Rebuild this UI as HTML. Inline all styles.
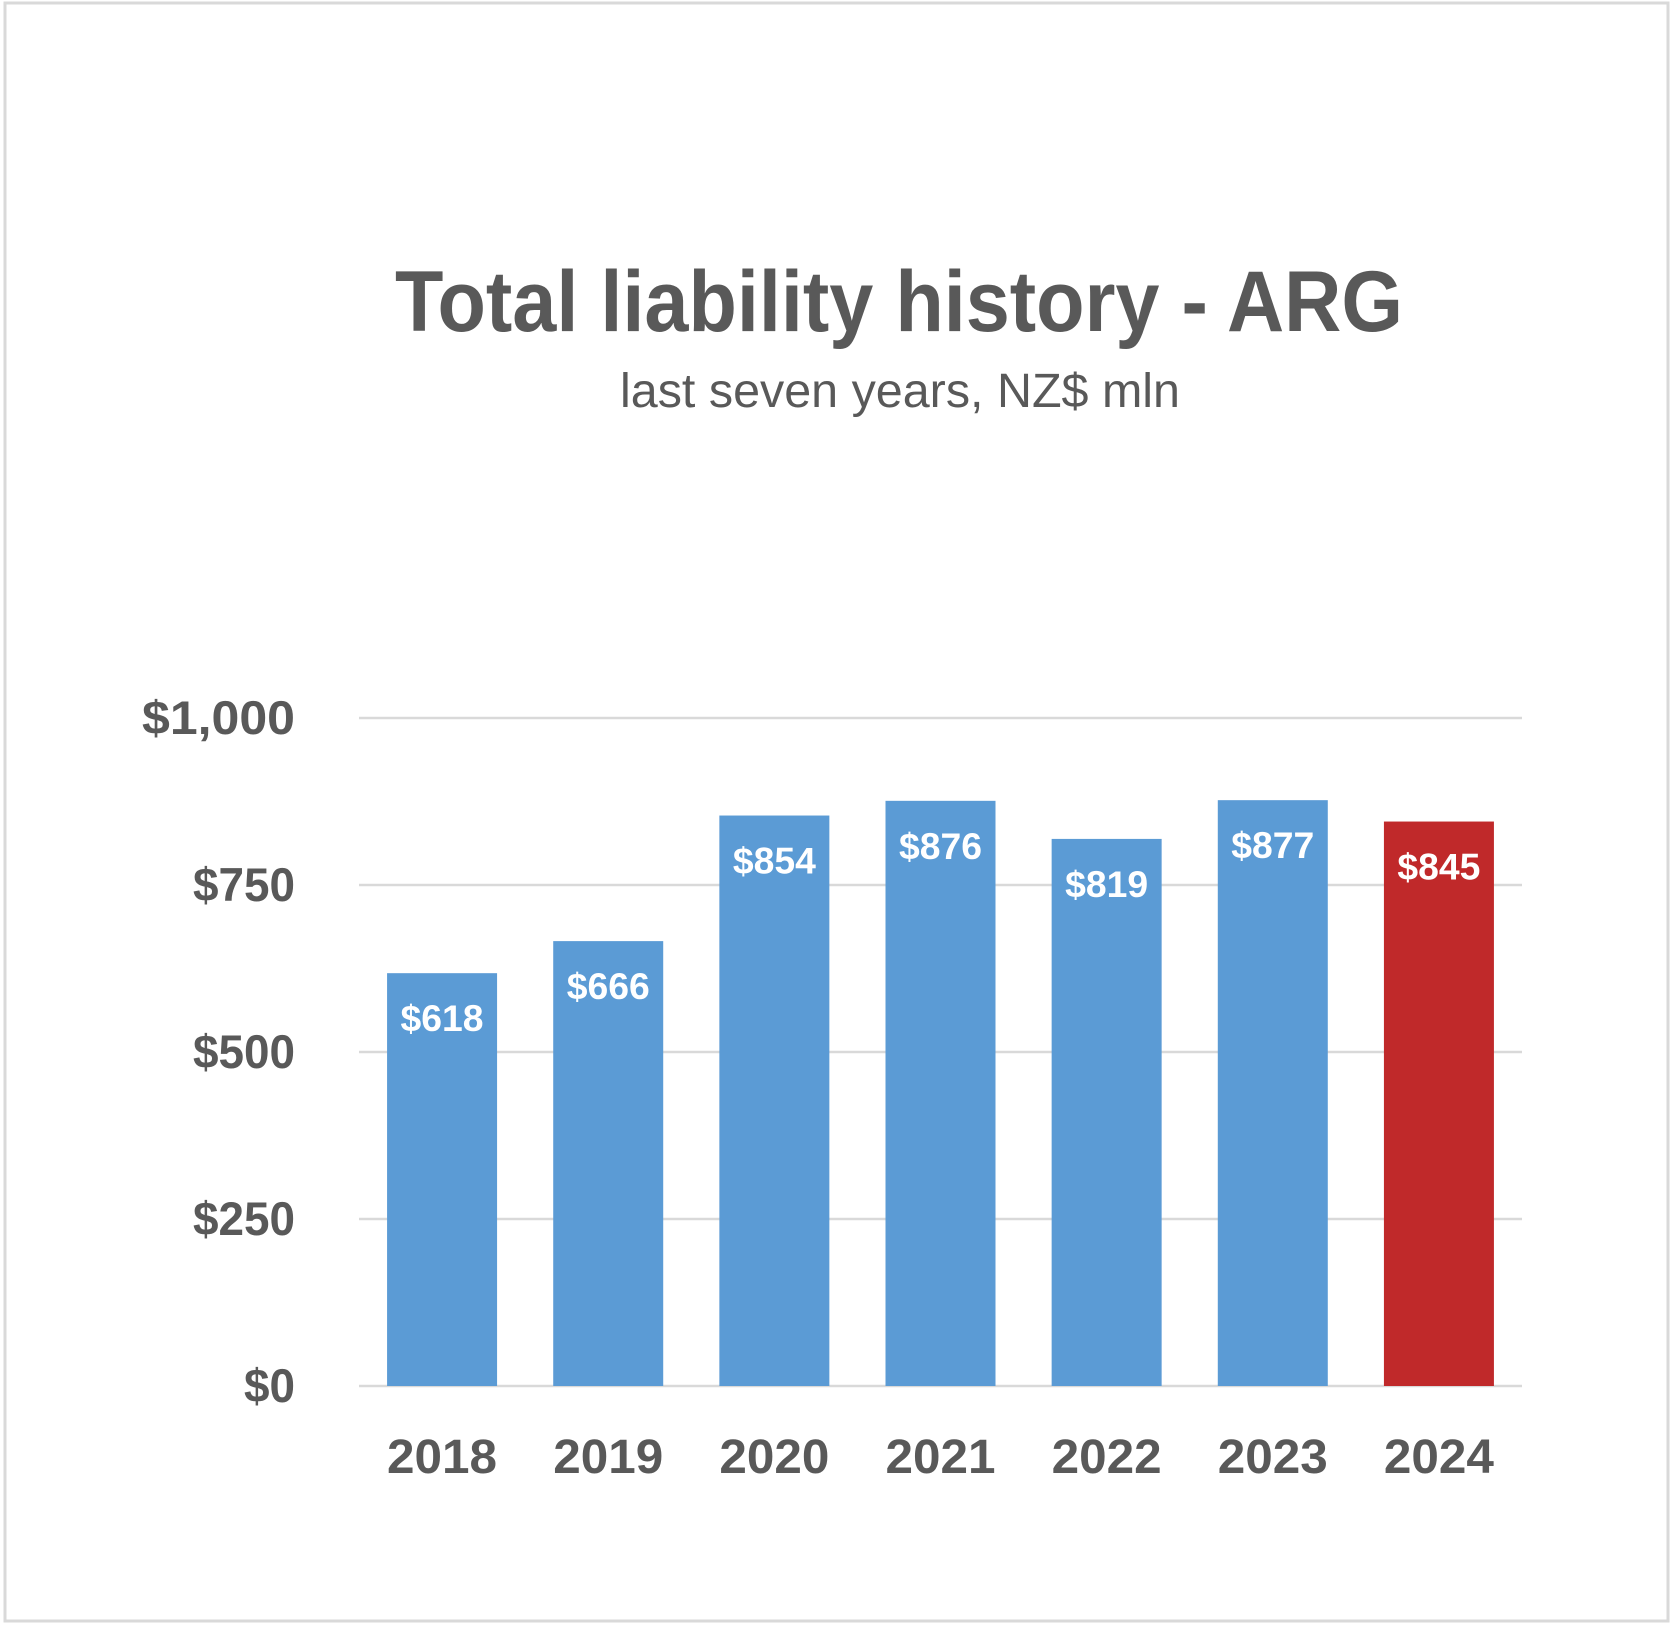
<!DOCTYPE html>
<html><head><meta charset="utf-8"><style>
html,body{margin:0;padding:0;background:#fff;}
svg{display:block;font-family:"Liberation Sans",sans-serif;}
</style></head><body>
<svg id="chart" width="1677" height="1627" viewBox="0 0 1677 1627">
<rect x="5" y="3" width="1663" height="1618" fill="#fff" stroke="#d9d9d9" stroke-width="3"/>
<text x="899" y="331" text-anchor="middle" font-size="86" font-weight="bold" fill="#595959" textLength="1008" lengthAdjust="spacingAndGlyphs">Total liability history - ARG</text>
<text x="900" y="407" text-anchor="middle" font-size="48" fill="#595959" textLength="560" lengthAdjust="spacingAndGlyphs">last seven years, NZ$ mln</text>
<g id="grid"></g><g id="bars"></g><g id="labels"></g>
</svg>
<script>
const categories=["2018","2019","2020","2021","2022","2023","2024"];
const values=[618,666,854,876,819,877,845];
const valueLabels=["$618","$666","$854","$876","$819","$877","$845"];
const ticks=[0,250,500,750,1000];
const tickLabels=["$0","$250","$500","$750","$1,000"];
const NS="http://www.w3.org/2000/svg";
const x0=359,x1=1522,yTop=718,yBot=1386;
const bw=(x1-x0)/categories.length, barW=110;
const y=v=>yBot-(v/1000)*(yBot-yTop);
const xc=i=>x0+bw*(i+0.5);
function mk(tag,attrs,parent){const e=document.createElementNS(NS,tag);for(const k in attrs)e.setAttribute(k,attrs[k]);document.getElementById(parent).appendChild(e);return e;}
ticks.forEach((t,i)=>{
 const l=mk('line',{x1:x0,x2:x1,y1:y(t),y2:y(t),stroke:'#d9d9d9','stroke-width':2.5},'grid');
 
 
 const tx=mk('text',{x:295,y:y(t)+16,'text-anchor':'end','font-size':47,'font-weight':'bold',fill:'#595959',textLength:tickLabels[i].length*25.5,lengthAdjust:'spacingAndGlyphs'},'grid');
 tx.textContent=tickLabels[i];
 
 
});
categories.forEach((c,i)=>{
 const r=mk('rect',{x:xc(i)-barW/2,y:y(values[i]),width:barW,height:yBot-y(values[i]),fill:i===6?'#c0292a':'#5b9bd5'},'bars');
 
 
 const v=mk('text',{x:xc(i),y:y(values[i])+58,'text-anchor':'middle','font-size':37,'font-weight':'bold',fill:'#fff',textLength:83,lengthAdjust:'spacingAndGlyphs'},'labels');
 v.textContent=valueLabels[i];
 
 
 const xl=mk('text',{x:xc(i),y:1473,'text-anchor':'middle','font-size':48,'font-weight':'bold',fill:'#595959',textLength:110,lengthAdjust:'spacingAndGlyphs'},'labels');
 xl.textContent=c;
 
 
});
</script>
</body></html>
